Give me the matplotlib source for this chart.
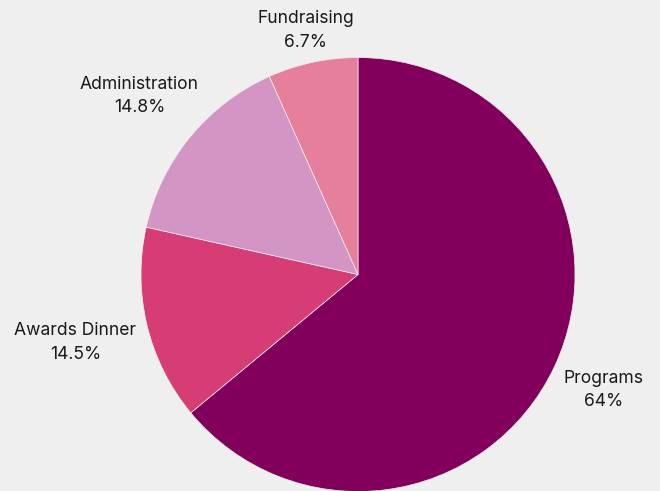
import numpy as np
import matplotlib.pyplot as plt

categories = ['Programs', 'Awards Dinner', 'Administration', 'Fundraising']
shares = [64.0, 14.5, 14.8, 6.7]
pct_labels = ['64%', '14.5%', '14.8%', '6.7%']
colors = ['#82005c', '#d63d75', '#d295c4', '#e67f9c']
label_dist = [1.25, 1.34, 1.30, 1.15]

plt.rcParams['font.family'] = ['Inter', 'DejaVu Sans']
bg = '#efefef'

dpi = 100
fig = plt.figure(figsize=(660 / dpi, 491 / dpi), dpi=dpi, facecolor=bg)
ax = fig.add_axes([0, 0, 1, 1])
ax.set_facecolor(bg)

# radius of 217 px, centre at (358, 274.5) px
R = 217.0
cx, cy = 358.0, 274.5

wedges, _ = ax.pie(shares, colors=colors, startangle=90, counterclock=False,
                   radius=1.0, wedgeprops=dict(linewidth=0.5, edgecolor=bg))
ax.set_xlim(-cx / R, (660 - cx) / R)
ax.set_ylim(-(491 - cy) / R, cy / R)
ax.set_aspect('equal')
ax.axis('off')

for w, name, pct, d in zip(wedges, categories, pct_labels, label_dist):
    mid = np.deg2rad((w.theta1 + w.theta2) / 2)
    ax.text(d * np.cos(mid), d * np.sin(mid), name + '\n' + pct,
            ha='center', va='center', fontsize=12.6, color='#1a1a1a',
            linespacing=1.5)

plt.savefig('out.png', dpi=dpi, facecolor=bg)
